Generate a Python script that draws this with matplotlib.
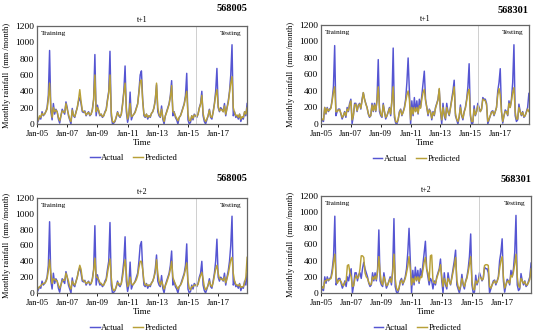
import numpy as np
import matplotlib
matplotlib.use("Agg")
from matplotlib import pyplot as plt

plt.rcParams['font.family'] = ['Liberation Serif', 'DejaVu Serif']

# monthly rainfall, Jan-2005 .. Dec-2018 (mm/month)
actual_568005 = [
    10, 40, 80, 60, 150, 100, 120, 150, 200, 350, 900, 150,
    50, 250, 120, 180, 150, 60, 10, 100, 180, 150, 120, 270,
    200, 100, 50, 0, 190, 100, 80, 150, 200, 280, 320, 250,
    150, 140, 160, 100, 130, 150, 100, 120, 180, 300, 850, 100,
    230, 150, 100, 120, 80, 100, 150, 180, 300, 400, 890, 100,
    0, 10, 30, 80, 150, 100, 80, 120, 250, 400, 710, 150,
    20, 100, 390, 50, 100, 120, 150, 200, 250, 400, 600, 650,
    300, 100, 80, 120, 60, 100, 80, 130, 150, 200, 300, 480,
    150, 100, 80, 220, 60, 0, 100, 150, 200, 250, 350, 530,
    100, 150, 80, 50, 0, 80, 100, 150, 200, 250, 350, 620,
    50, 0, 20, 100, 50, 120, 100, 80, 120, 200, 250, 400,
    100, 30, 0, 50, 100, 180, 80, 60, 150, 250, 400, 680,
    200, 150, 200, 180, 150, 250, 100, 200, 280, 400, 600, 970,
    100, 150, 80, 100, 60, 120, 30, 80, 60, 150, 100, 250,
]
pred1_568005 = [
    30, 50, 100, 80, 130, 110, 120, 150, 180, 300, 500, 200,
    80, 200, 150, 170, 150, 80, 40, 100, 160, 150, 140, 250,
    180, 120, 60, 30, 170, 110, 90, 140, 200, 300, 420, 280,
    170, 150, 150, 110, 130, 140, 110, 120, 170, 300, 600, 150,
    200, 170, 110, 120, 90, 100, 140, 170, 280, 380, 600, 150,
    30, 20, 40, 90, 140, 110, 90, 120, 230, 380, 500, 200,
    60, 120, 250, 90, 100, 120, 140, 190, 240, 380, 520, 540,
    280, 120, 90, 120, 80, 100, 90, 130, 150, 200, 280, 500,
    200, 120, 90, 180, 80, 30, 100, 140, 190, 240, 330, 470,
    150, 140, 100, 70, 40, 80, 100, 140, 190, 240, 320, 400,
    120, 40, 40, 100, 70, 110, 100, 90, 120, 190, 240, 350,
    130, 60, 30, 60, 100, 170, 90, 80, 140, 240, 350, 420,
    220, 160, 180, 170, 150, 220, 120, 190, 260, 380, 500, 580,
    200, 140, 100, 110, 80, 120, 60, 90, 80, 150, 120, 200,
]
pred2_568005 = [
    40, 60, 80, 90, 110, 120, 120, 140, 180, 280, 420, 250,
    120, 180, 170, 160, 150, 100, 60, 100, 150, 170, 160, 250,
    200, 150, 80, 50, 150, 120, 100, 140, 200, 280, 350, 300,
    180, 150, 150, 120, 130, 140, 120, 120, 170, 280, 440, 200,
    200, 170, 130, 120, 100, 100, 130, 160, 250, 350, 430, 200,
    60, 30, 40, 80, 130, 120, 100, 120, 200, 320, 420, 250,
    80, 110, 200, 120, 100, 120, 140, 170, 220, 320, 400, 400,
    300, 150, 100, 110, 90, 100, 100, 120, 150, 200, 260, 420,
    250, 150, 100, 150, 100, 50, 90, 130, 180, 230, 300, 400,
    200, 150, 110, 80, 50, 80, 100, 130, 180, 230, 300, 380,
    150, 60, 40, 80, 80, 100, 100, 90, 110, 170, 220, 260,
    180, 80, 40, 60, 100, 150, 100, 80, 130, 220, 300, 350,
    250, 180, 180, 170, 160, 200, 130, 180, 240, 330, 420, 450,
    250, 150, 110, 100, 90, 110, 70, 80, 80, 130, 200, 450,
]
actual_568301 = [
    20, 50, 30, 200, 120, 200, 150, 180, 200, 300, 450, 950,
    100, 150, 180, 180, 120, 60, 100, 150, 80, 200, 150, 250,
    300, 0, 100, 250, 250, 150, 230, 250, 180, 300, 380, 300,
    250, 200, 120, 80, 100, 250, 150, 250, 150, 300, 780, 150,
    100, 80, 250, 150, 60, 100, 150, 200, 100, 300, 920, 80,
    10, 0, 50, 150, 180, 100, 150, 200, 300, 500, 800, 400,
    0, 280, 100, 320, 150, 280, 120, 300, 200, 350, 500, 640,
    300, 200, 100, 180, 150, 50, 150, 100, 200, 250, 300, 420,
    150, 0, 250, 100, 50, 250, 150, 100, 200, 300, 400, 530,
    100, 50, 0, 80, 230, 100, 50, 150, 200, 300, 450, 730,
    100, 0, 10, 220, 100, 150, 250, 200, 150, 180, 320, 300,
    300, 250, 0, 50, 100, 150, 160, 100, 150, 200, 400, 500,
    670, 150, 10, 100, 170, 150, 100, 280, 200, 300, 500, 960,
    100, 30, 50, 240, 150, 100, 150, 80, 100, 150, 200, 370,
]
pred1_568301 = [
    30, 60, 50, 200, 130, 190, 160, 170, 190, 280, 380, 450,
    150, 150, 170, 170, 130, 80, 100, 140, 100, 180, 160, 230,
    280, 50, 100, 230, 240, 160, 220, 240, 190, 280, 380, 300,
    240, 200, 130, 90, 100, 230, 160, 230, 160, 280, 450, 200,
    120, 90, 230, 150, 80, 100, 140, 190, 120, 280, 450, 120,
    30, 20, 60, 140, 170, 110, 140, 190, 270, 350, 400, 300,
    50, 200, 120, 200, 150, 200, 130, 220, 190, 300, 380, 420,
    280, 200, 120, 170, 140, 70, 140, 110, 190, 240, 290, 430,
    160, 50, 200, 120, 70, 200, 150, 110, 190, 280, 360, 450,
    130, 60, 30, 90, 200, 110, 70, 140, 190, 280, 380, 420,
    120, 30, 30, 180, 110, 150, 220, 190, 150, 180, 300, 290,
    280, 230, 30, 60, 100, 140, 150, 110, 150, 200, 350, 430,
    350, 150, 30, 100, 150, 150, 110, 250, 200, 280, 380, 440,
    150, 60, 60, 200, 150, 110, 140, 90, 100, 140, 180, 150,
]
pred2_568301 = [
    40, 80, 60, 150, 150, 170, 160, 170, 180, 250, 380, 480,
    200, 120, 150, 160, 140, 100, 90, 130, 150, 340, 350, 250,
    200, 80, 90, 180, 220, 180, 200, 300, 460, 460, 440, 250,
    200, 180, 130, 100, 110, 200, 170, 210, 170, 260, 450, 250,
    130, 100, 200, 150, 90, 100, 140, 180, 130, 250, 480, 180,
    60, 30, 60, 130, 160, 120, 140, 180, 250, 330, 450, 300,
    100, 180, 130, 200, 160, 200, 140, 200, 190, 280, 380, 440,
    300, 250, 150, 460, 470, 150, 130, 120, 180, 230, 280, 350,
    200, 80, 180, 130, 80, 180, 150, 110, 180, 260, 340, 440,
    160, 80, 40, 90, 180, 120, 80, 140, 180, 260, 350, 450,
    150, 50, 40, 150, 120, 150, 200, 190, 160, 180, 340, 350,
    350, 340, 80, 60, 100, 130, 150, 120, 140, 190, 300, 400,
    450, 200, 60, 100, 140, 150, 120, 220, 200, 260, 360, 480,
    200, 90, 70, 180, 150, 120, 140, 100, 100, 130, 170, 300,
]

tick_labels = ['Jan-05', 'Jan-07', 'Jan-09', 'Jan-11', 'Jan-13', 'Jan-15', 'Jan-17']
test_start = 126  # first testing month (Jul-15)

blue = '#5555d2'
olive = '#b8a038'

fig = plt.figure(figsize=(5.5, 3.35), dpi=100)

# rect, station, lead, actual, predicted, station-label y, legend y
panels = [
    ([0.0673, 0.630, 0.382, 0.2925], '568005', 't+1', actual_568005, pred1_568005, 1.175, -0.35),
    ([0.5836, 0.630, 0.378, 0.2955], '568301', 't+1', actual_568301, pred1_568301, 1.15, -0.35),
    ([0.0673, 0.1254, 0.382, 0.2836], '568005', 't+2', actual_568005, pred2_568005, 1.21, -0.365),
    ([0.5836, 0.1254, 0.382, 0.2896], '568301', 't+2', actual_568301, pred2_568301, 1.165, -0.358),
]

for rect, station, lead, act, pred, st_y, leg_y in panels:
    ax = fig.add_axes(rect)
    x = np.arange(len(act))
    ax.plot(x, act, color=blue, lw=1.05, label='Actual')
    ax.plot(x, pred, color=olive, lw=1.05, label='Predicted')
    ax.axvline(test_start, color='#c8c8c8', lw=0.6)
    ax.set_xlim(0, len(act) - 1)
    ax.set_ylim(0, 1200)
    ax.set_yticks(range(0, 1201, 200))
    ax.set_xticks(np.arange(0, 145, 24))
    ax.set_xticklabels(tick_labels)
    ax.tick_params(axis='y', labelsize=6.8, length=0, pad=2)
    ax.tick_params(axis='x', labelsize=6.2, length=2.5, width=0.6, direction='out', pad=1.5)
    for s in ax.spines.values():
        s.set_color('#666666')
        s.set_linewidth(0.9)
    ax.set_xlabel('Time', fontsize=6.4, labelpad=1)
    ax.set_ylabel('Monthly rainfall  (mm /month)', fontsize=6, labelpad=3)
    ax.set_title(lead, fontsize=5.8, pad=3)
    ax.text(1.0, st_y, station, transform=ax.transAxes, ha='right', va='center',
            fontsize=7.5, fontweight='bold')
    ax.text(0.018, 0.95, 'Training', transform=ax.transAxes, ha='left', va='top', fontsize=5.3)
    ax.text(0.975, 0.95, 'Testing', transform=ax.transAxes, ha='right', va='top', fontsize=5.3)
    ax.legend(loc='center', bbox_to_anchor=(0.46, leg_y), ncol=2, frameon=False,
              fontsize=6.2, handlelength=1.1, handletextpad=0.2, columnspacing=1.0,
              borderaxespad=0, borderpad=0)

fig.savefig('out.png', dpi=100)
